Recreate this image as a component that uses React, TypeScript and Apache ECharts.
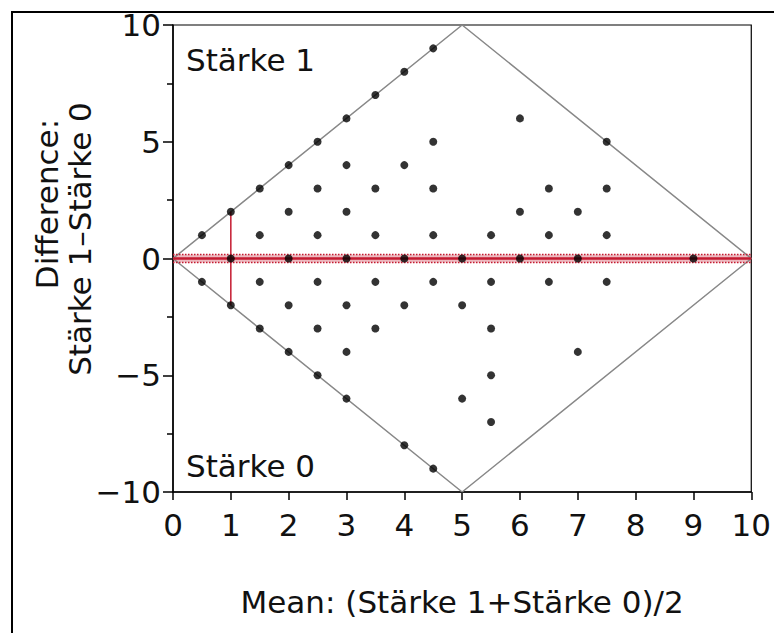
import React, { useEffect, useRef } from "react";
import * as echarts from "echarts";

// Bland-Altman style data: mean (x) and difference (y)
const meanValues = [
  0.5, 0.5,
  1, 1, 1,
  1.5, 1.5, 1.5, 1.5,
  2, 2, 2, 2, 2,
  2.5, 2.5, 2.5, 2.5, 2.5, 2.5,
  3, 3, 3, 3, 3, 3, 3,
  3.5, 3.5, 3.5, 3.5, 3.5,
  4, 4, 4, 4, 4,
  4.5, 4.5, 4.5, 4.5, 4.5, 4.5,
  5, 5, 5,
  5.5, 5.5, 5.5, 5.5, 5.5,
  6, 6, 6,
  6.5, 6.5, 6.5,
  7, 7, 7,
  7.5, 7.5, 7.5, 7.5,
  9,
];
const diffValues = [
  1, -1,
  2, 0, -2,
  3, 1, -1, -3,
  4, 2, 0, -2, -4,
  5, 3, 1, -1, -3, -5,
  6, 4, 2, 0, -2, -4, -6,
  7, 3, 1, -1, -3,
  8, 4, 0, -2, -8,
  9, 5, 3, 1, -1, -9,
  0, -2, -6,
  1, -1, -3, -5, -7,
  6, 2, 0,
  3, 1, -1,
  2, 0, -4,
  5, 3, 1, -1,
  0,
];

// Boundary diamond (possible range of differences)
const boundaryX = [0, 5, 10, 5, 0];
const boundaryY = [0, 10, 0, -10, 0];

// Mean difference line and CI band
const meanDiff = 0;
const ciHalfWidth = 0.17;
const meanLineX = [0, 10];
// Vertical reference segment
const refX = 1;
const refY = [-2, 2];

const xTicks = { min: 0, max: 10, interval: 1 };
const yTicks = { min: -10, max: 10, interval: 5 };

const FONT = "DejaVu Sans";
const FS = 31;

const fmt = (v: number) => (v < 0 ? "\u2212" + Math.abs(v) : String(v));

export default function App() {
  const ref = useRef<HTMLDivElement>(null);
  useEffect(() => {
    document.body.style.margin = "0";
    const chart = echarts.init(ref.current!, null, { renderer: "svg" });
    const points = meanValues.map((m, i) => [m, diffValues[i]]);
    const red = "#c41a30";
    chart.setOption({
      animation: false,
      backgroundColor: "#fff",
      grid: {
        left: 173,
        top: 25,
        right: 21,
        bottom: 141,
        show: true,
        borderColor: "#000",
        borderWidth: 1.2,
        backgroundColor: "transparent",
      },
      xAxis: {
        type: "value",
        min: xTicks.min,
        max: xTicks.max,
        interval: xTicks.interval,
        name: "Mean: (Stärke 1+Stärke 0)/2",
        nameLocation: "middle",
        nameGap: 94,
        nameTextStyle: { fontFamily: FONT, fontSize: FS, color: "#111" },
        axisLine: { show: true, onZero: false, lineStyle: { color: "#000", width: 1.5 } },
        axisTick: { show: true, length: 8, lineStyle: { color: "#000", width: 1.5 } },
        axisLabel: { fontFamily: FONT, fontSize: FS, color: "#111", margin: 17, formatter: fmt },
        splitLine: { show: false },
      },
      yAxis: {
        type: "value",
        min: yTicks.min,
        max: yTicks.max,
        interval: yTicks.interval,
        axisLine: { show: true, onZero: false, lineStyle: { color: "#000", width: 1.5 } },
        axisTick: { show: true, length: 10, lineStyle: { color: "#000", width: 1.5 } },
        minorTick: { show: true, splitNumber: 2, length: 6, lineStyle: { color: "#000", width: 1.5 } },
        axisLabel: { fontFamily: FONT, fontSize: FS, color: "#111", margin: 12, formatter: fmt },
        splitLine: { show: false },
        minorSplitLine: { show: false },
      },
      graphic: [
        {
          type: "rect",
          shape: { x: 12, y: 12, width: 900, height: 800 },
          style: { fill: "none", stroke: "#000", lineWidth: 2 },
          silent: true,
          z: -1,
        },
        {
          type: "text",
          x: 47,
          y: 204,
          rotation: Math.PI / 2,
          style: {
            text: "Difference:",
            fontFamily: FONT,
            fontSize: FS,
            fill: "#111",
            textAlign: "center",
            textVerticalAlign: "middle",
          },
        },
        {
          type: "text",
          x: 80,
          y: 239,
          rotation: Math.PI / 2,
          style: {
            text: "Stärke 1–Stärke 0",
            fontFamily: FONT,
            fontSize: FS,
            fill: "#111",
            textAlign: "center",
            textVerticalAlign: "middle",
          },
        },
        {
          type: "text",
          x: 186,
          y: 60,
          style: {
            text: "Stärke 1",
            fontFamily: FONT,
            fontSize: FS,
            fill: "#111",
            textAlign: "left",
            textVerticalAlign: "middle",
          },
        },
        {
          type: "text",
          x: 186,
          y: 466,
          style: {
            text: "Stärke 0",
            fontFamily: FONT,
            fontSize: FS,
            fill: "#111",
            textAlign: "left",
            textVerticalAlign: "middle",
          },
        },
      ],
      series: [
        {
          type: "line",
          data: boundaryX.map((x, i) => [x, boundaryY[i]]),
          symbol: "none",
          lineStyle: { color: "#888", width: 1.5 },
          z: 1,
        },
        {
          type: "line",
          data: meanLineX.map((x) => [x, meanDiff]),
          symbol: "none",
          lineStyle: { color: red, width: 2.5 },
          markArea: {
            silent: true,
            itemStyle: { color: "rgba(196,26,48,0.3)" },
            data: [[{ coord: [0, meanDiff - ciHalfWidth] }, { coord: [10, meanDiff + ciHalfWidth] }]],
          },
          z: 3,
        },
        {
          type: "line",
          data: meanLineX.map((x) => [x, meanDiff + ciHalfWidth]),
          symbol: "none",
          lineStyle: { color: red, width: 1.5, type: "dotted" },
          z: 3,
        },
        {
          type: "line",
          data: meanLineX.map((x) => [x, meanDiff - ciHalfWidth]),
          symbol: "none",
          lineStyle: { color: red, width: 1.5, type: "dotted" },
          z: 3,
        },
        {
          type: "line",
          data: refY.map((y) => [refX, y]),
          symbol: "none",
          lineStyle: { color: red, width: 1.5 },
          z: 3,
        },
        {
          type: "scatter",
          data: points,
          symbol: "circle",
          symbolSize: 8,
          itemStyle: { color: "#000" },
          z: 4,
        },
      ],
    });
    return () => chart.dispose();
  }, []);
  return <div ref={ref} style={{ width: 774, height: 633 }} />;
}
